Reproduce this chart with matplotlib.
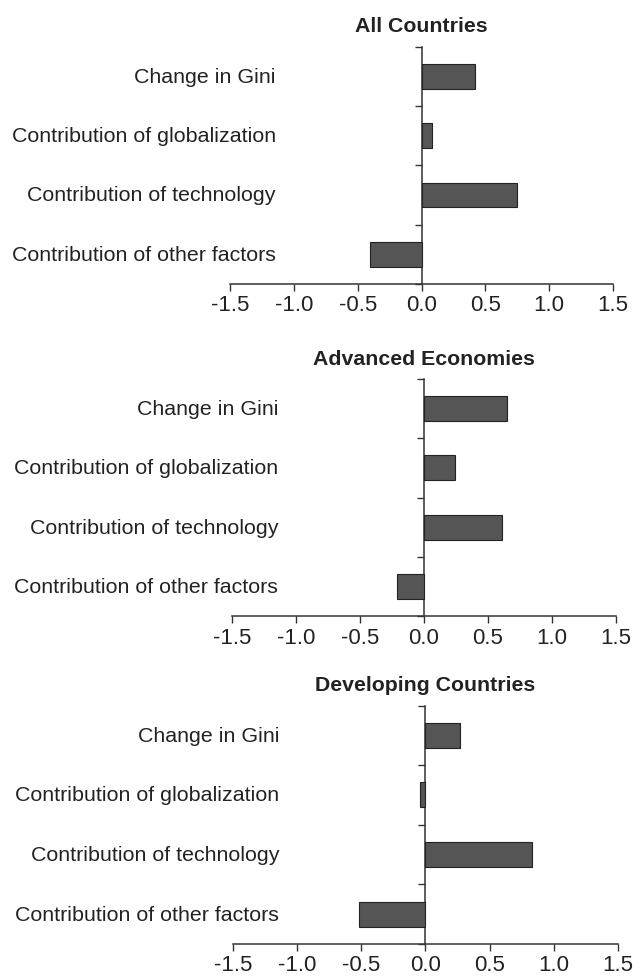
import numpy as np
import matplotlib
matplotlib.use('Agg')
import matplotlib.pyplot as plt

plt.rcParams['font.family'] = ['Liberation Sans', 'DejaVu Sans']

factors = ['Change in Gini',
           'Contribution of globalization',
           'Contribution of technology',
           'Contribution of other factors']

panel_titles = ['All Countries', 'Advanced Economies', 'Developing Countries']

all_countries = [0.42, 0.08, 0.745, -0.405]
advanced      = [0.65, 0.245, 0.61, -0.21]
developing    = [0.27, -0.045, 0.83, -0.52]

panel_values = [all_countries, advanced, developing]

xticks = [-1.5, -1.0, -0.5, 0.0, 0.5, 1.0, 1.5]

bar_color = '#555555'
axis_color = '#333333'

fig = plt.figure(figsize=(6.33, 9.79), dpi=100)

# left, bottom, width, height (figure fraction)
boxes = [[0.3634, 0.7089, 0.605, 0.2424],
         [0.3665, 0.3695, 0.606, 0.2424],
         [0.3680, 0.0347, 0.608, 0.2436]]

for box, title, vals in zip(boxes, panel_titles, panel_values):
    ax = fig.add_axes(box)
    ypos = np.arange(len(factors))
    ax.barh(ypos, vals, height=0.42, color=bar_color,
            edgecolor='#222222', linewidth=0.8, zorder=3)

    ax.set_xlim(-1.5, 1.5)
    ax.set_ylim(3.5, -0.5)
    ax.set_xticks(xticks)
    ax.set_xticklabels(['%.1f' % t for t in xticks], fontsize=16, color='#222222')

    # y axis sits at zero, ticks on category boundaries
    ax.spines['left'].set_position(('data', 0))
    ax.spines['top'].set_visible(False)
    ax.spines['right'].set_visible(False)
    for s in ['left', 'bottom']:
        ax.spines[s].set_color(axis_color)
        ax.spines[s].set_linewidth(1.1)
    ax.set_yticks(np.arange(-0.5, len(factors), 1.0))
    ax.set_yticklabels([])
    ax.tick_params(axis='y', direction='out', length=5, width=1.0, color=axis_color)
    ax.tick_params(axis='x', direction='out', length=5, width=1.0, color=axis_color, pad=2.5)

    for y, lab in zip(ypos, factors):
        ax.text(-1.14, y, lab, ha='right', va='center', fontsize=15.4, color='#222222')

    ax.set_title(title, fontsize=15.3, fontweight='bold', color='#222222', pad=11)

fig.savefig('out.png', dpi=100)
